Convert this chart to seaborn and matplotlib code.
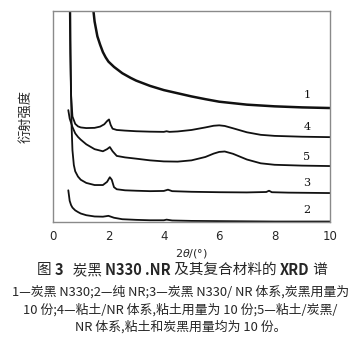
import seaborn as sns
import matplotlib.pyplot as plt

# XRD curves (2theta in degrees, intensity in arbitrary units)
x1 = [1.45, 1.5, 1.6, 1.7, 1.8, 1.9, 2.0, 2.2, 2.5, 2.8, 3.0, 3.5, 4.0, 4.5, 5.0, 5.5, 6.0, 7.0, 8.0, 9.0, 10.0]
y1 = [101, 95, 88, 84, 80.5, 78, 76, 73.5, 70.5, 68.3, 67, 64.5, 62.5, 61, 59.5, 58.2, 57, 55.6, 54.8, 54.3, 54]

x4 = [0.60, 0.62, 0.65, 0.70, 0.80, 0.90, 1.0, 1.2, 1.5, 1.7, 1.85, 1.95, 2.02, 2.08, 2.15, 2.3, 2.6, 3.0, 3.5,
      4.0, 4.1, 4.2, 4.5, 5.0, 5.5, 5.8, 6.0, 6.2, 6.5, 7.0, 7.5, 8.0, 9.0, 10.0]
y4 = [105, 80, 60, 50, 46.5, 45.3, 44.8, 44.5, 44.6, 45.2, 46.3, 47.8, 48.6, 46.0, 44.2, 43.6, 43.3, 43.0, 42.8,
      42.7, 43.0, 42.7, 42.9, 43.6, 44.8, 45.6, 45.8, 45.5, 44.4, 42.5, 41.3, 40.8, 40.4, 40.2]

x5 = [0.55, 0.6, 0.7, 0.8, 0.9, 1.0, 1.2, 1.5, 1.8, 1.95, 2.05, 2.15, 2.3, 2.6, 3.0, 3.5, 4.0, 4.5, 5.0,
      5.5, 5.8, 6.0, 6.2, 6.5, 7.0, 7.5, 8.0, 9.0, 10.0]
y5 = [53, 49, 45, 42, 40.3, 39, 36.8, 34.5, 33.5, 34.5, 35.5, 33.5, 31.3, 30.6, 30.0, 29.2, 28.7, 28.6, 29.2,
      30.8, 32.4, 33.2, 33.4, 32.3, 29.6, 27.8, 27.1, 26.7, 26.5]

x3 = [0.62, 0.64, 0.67, 0.7, 0.75, 0.8, 0.9, 1.0, 1.2, 1.5, 1.8, 1.95, 2.05, 2.12, 2.2, 2.3, 2.6, 3.0, 3.5,
      4.0, 4.15, 4.3, 5.0, 6.0, 7.0, 7.7, 7.8, 7.9, 8.5, 10.0]
y3 = [105, 70, 45, 34, 27, 24, 21.5, 20, 18.5, 17.5, 17.5, 19, 21.2, 20, 16.5, 15.5, 15, 14.8, 14.6,
      14.7, 15.3, 14.6, 14.3, 14.1, 14, 14.2, 14.8, 14.1, 13.9, 13.7]

x2 = [0.55, 0.6, 0.65, 0.7, 0.8, 0.9, 1.0, 1.2, 1.5, 1.8, 2.0, 2.2, 2.5, 3.0, 3.5, 4.0, 4.1, 4.3, 5.0, 6.0, 8.0, 10.0]
y2 = [15, 10, 8, 6.8, 5.5, 4.7, 4.0, 3.2, 2.6, 2.5, 2.9, 2.0, 1.3, 1.0, 0.8, 0.8, 1.1, 0.7, 0.5, 0.4, 0.2, 0.2]

curves = [("1", x1, y1, 60), ("4", x4, y4, 45), ("5", x5, y5, 30.8), ("3", x3, y3, 18.5), ("2", x2, y2, 5.7)]

xticks = [0, 2, 4, 6, 8, 10]

# title pieces: (text, bold)
title_parts = [("图 ", False), ("3", True), ("   炭黑 ", False), ("N330 .NR", True),
               (" 及其复合材料的 ", False), ("XRD", True), (" 谱", False)]
caption = ["1—炭黑 N330;2—纯 NR;3—炭黑 N330/ NR 体系,炭黑用量为",
           "10 份;4—粘土/NR 体系,粘土用量为 10 份;5—粘土/炭黑/",
           "NR 体系,粘土和炭黑用量均为 10 份。"]

sns.set_theme(style="white")
plt.rcParams['font.family'] = ['Noto Sans CJK SC', 'DejaVu Sans']

fig = plt.figure(figsize=(3.61, 3.54), dpi=100)
ax = fig.add_axes([0.147, 0.373, 0.767, 0.596])

for name, xs, ys, ly in curves:
    lw = 1.8 if name == "1" else 1.3
    sns.lineplot(x=xs, y=ys, ax=ax, color="#111111", linewidth=lw, sort=False)
    ax.text(9.17, ly, name, fontsize=8, ha="center", va="center", color="#111111",
            family="DejaVu Serif")

ax.set_xlim(0, 10)
ax.set_ylim(0, 100)
ax.set_xticks(xticks)
ax.set_xticklabels([str(t) for t in xticks], fontsize=8.5, family="DejaVu Sans")
ax.set_yticks([])
ax.tick_params(axis="x", direction="in", length=3, width=0.8, color="#333333", pad=6)
for s in ax.spines.values():
    s.set_color("#8a8a8a")
    s.set_linewidth(1.0)

ax.set_xlabel(r"2$\it{\theta}$/(°)", fontsize=8, labelpad=3, family="DejaVu Sans")
ax.set_ylabel("衍射强度", fontsize=9.5, labelpad=15)

# title with bold pieces, laid out left to right
renderer = fig.canvas.get_renderer()
pieces = []
for txt, bold in title_parts:
    t = fig.text(0, 0.237, txt, ha="left", va="center", fontsize=10.5,
                 fontweight="bold" if bold else "normal",
                 family=['Noto Sans CJK SC', 'DejaVu Serif'] if bold else ['Noto Sans CJK SC', 'DejaVu Sans'])
    pieces.append(t)
widths = [p.get_window_extent(renderer).width for p in pieces]
total = sum(widths)
x0 = (182 - total / 2) / fig.bbox.width
for p, w in zip(pieces, widths):
    p.set_x(x0)
    x0 += w / fig.bbox.width

for i, line in enumerate(caption):
    fig.text(0.5, 0.175 - i * 0.0495, line, ha="center", va="center", fontsize=9.3)

fig.savefig("out.png", dpi=100, facecolor="white")
